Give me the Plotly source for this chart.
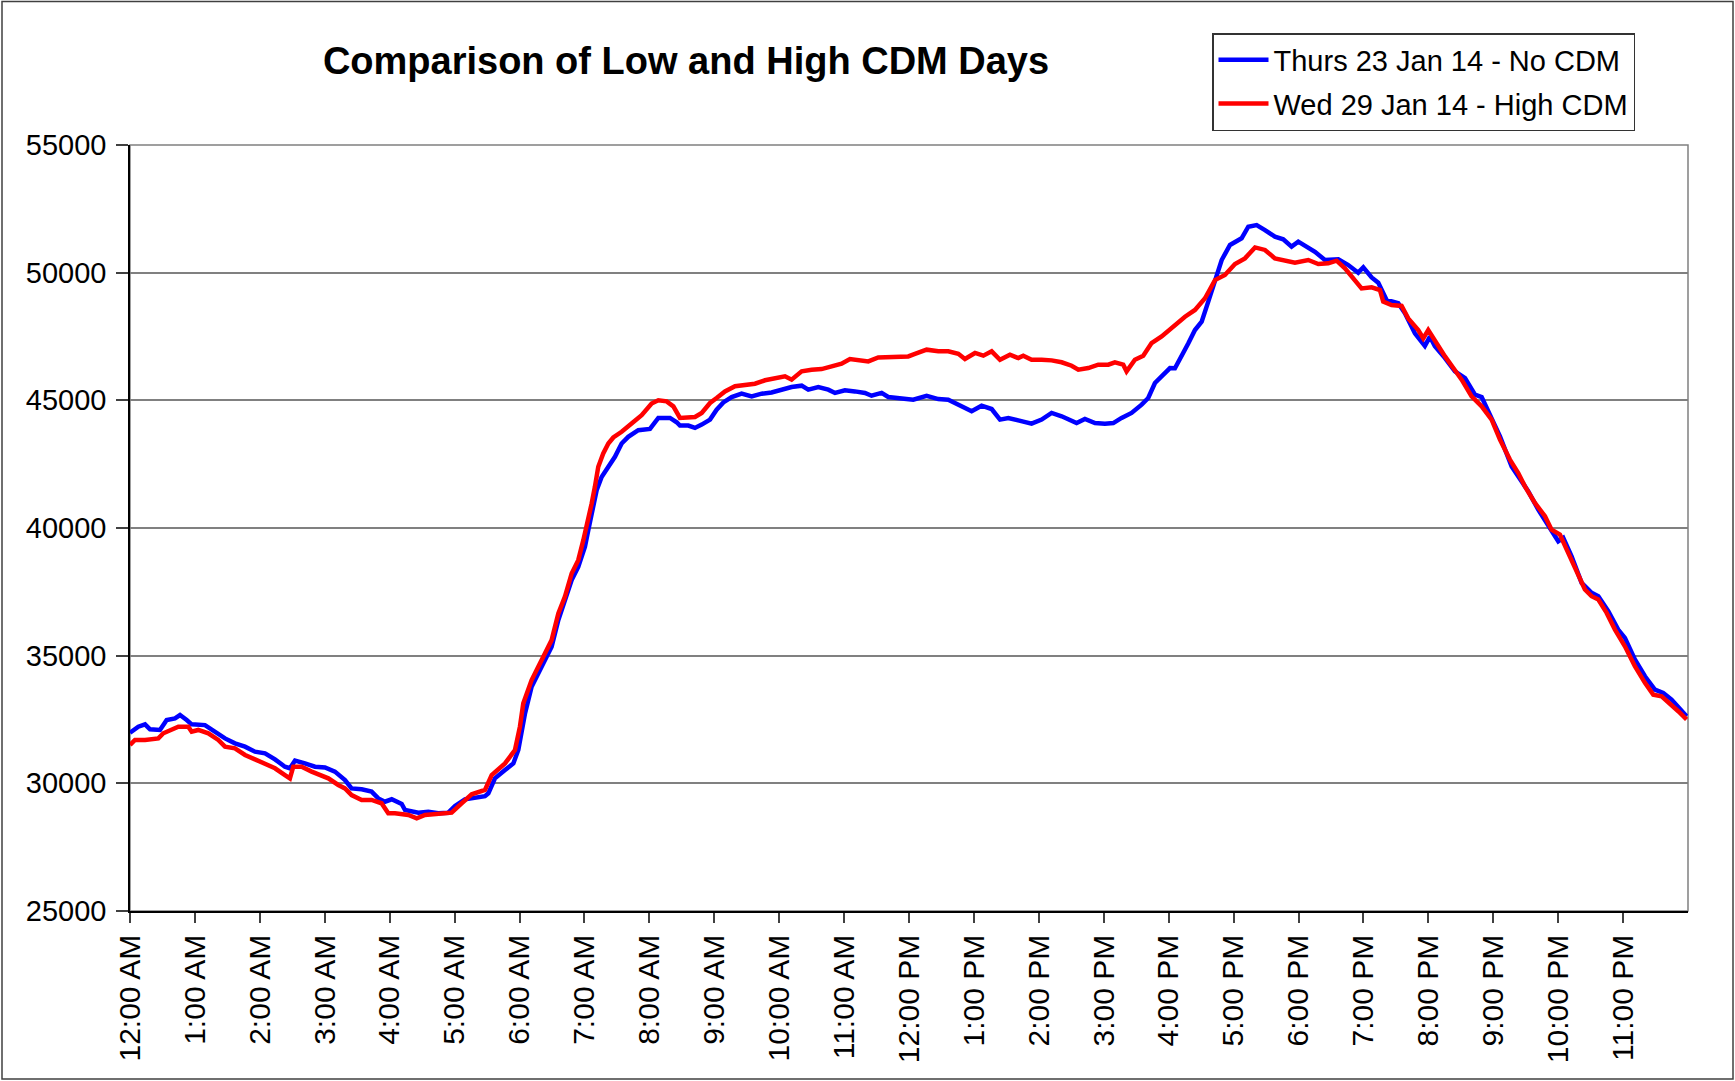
import plotly.graph_objects as go

# minutes after midnight, MW
blue_min = [0, 7.7, 13.9, 18.5, 27.7, 33.9, 41.6, 46.2, 52.4, 57.0, 69.3, 78.5, 87.8, 97.0, 106.3,
            115.5, 124.8, 134.0, 143.2, 147.8, 152.5, 161.7, 171.0, 180.2, 189.4, 198.7, 204.8,
            214.1, 223.3, 229.5, 235.6, 241.9, 251.1, 254.2, 266.5, 275.7, 285.0, 294.2, 300.4,
            309.6, 318.9, 328.1, 331.2, 337.3, 346.6, 354.3, 358.9, 365.1, 371.2, 377.4, 383.5,
            389.7, 395.9, 402.0, 408.2, 414.3, 420.5, 423.6, 426.7, 431.3, 435.9, 442.1, 448.2,
            454.4, 460.5, 469.8, 480.6, 488.3, 499.1, 505.3, 508.3, 516.0, 522.2, 528.4, 536.1,
            542.2, 548.4, 556.1, 565.3, 574.6, 583.8, 593.0, 602.3, 611.5, 620.8, 626.9, 636.2,
            645.4, 651.6, 660.8, 670.0, 679.3, 685.4, 694.7, 700.8, 713.2, 723.9, 736.3, 747.1,
            756.3, 765.6, 777.9, 787.1, 796.4, 804.1, 811.8, 821.0, 833.3, 842.6, 847.2, 851.8,
            861.1, 870.3, 874.9, 882.6, 891.9, 901.1, 908.8, 916.5, 925.7, 935.0, 941.1, 947.3,
            955.0, 961.2, 965.8, 972.0, 978.2, 984.3, 990.5, 996.6, 1002.8, 1009.0, 1016.7,
            1027.4, 1033.6, 1041.3, 1049.0, 1058.2, 1065.9, 1073.6, 1079.8, 1086.0, 1095.2,
            1104.4, 1116.8, 1126.0, 1135.2, 1139.9, 1147.6, 1153.7, 1161.4, 1172.2, 1178.4,
            1187.6, 1196.8, 1201.5, 1206.1, 1215.4, 1224.6, 1233.9, 1243.1, 1249.3, 1258.5,
            1266.2, 1277.0, 1284.7, 1292.4, 1301.6, 1310.9, 1320.1, 1324.7, 1332.4, 1341.7,
            1350.9, 1357.1, 1366.3, 1375.5, 1381.7, 1390.9, 1400.2, 1409.4, 1417.1, 1424.8,
            1432.5, 1438.7]
blue_mw = [31984, 32218, 32310, 32114, 32090, 32480, 32545, 32675, 32480, 32310, 32280, 32020,
           31760, 31565, 31435, 31240, 31175, 30940, 30650, 30590, 30890, 30780, 30650, 30625,
           30460, 30130, 29800, 29765, 29675, 29410, 29280, 29375, 29190, 28955, 28850, 28890,
           28825, 28850, 29110, 29375, 29450, 29500, 29610, 30195, 30520, 30780, 31305, 32740,
           33785, 34305, 34830, 35350, 36395, 37180, 37960, 38480, 39265, 39920, 40570, 41480,
           42000, 42400, 42790, 43310, 43570, 43830, 43880, 44310, 44310, 44140, 44010, 44010,
           43920, 44050, 44245, 44635, 44920, 45130, 45260, 45155, 45260, 45310, 45420, 45520,
           45575, 45420, 45520, 45420, 45290, 45390, 45350, 45290, 45180, 45290, 45130, 45090,
           45025, 45180, 45050, 45025, 44830, 44570, 44790, 44660, 44245, 44310, 44215, 44085,
           44245, 44400, 44505, 44375, 44215, 44110, 44270, 44110, 44085, 44110, 44310, 44505,
           44830, 45090, 45680, 46005, 46265, 46255, 46710, 47235, 47755, 48080, 48865, 49710,
           50495, 51085, 51345, 51800, 51865, 51670, 51410, 51305, 51020, 51215, 51045, 50820,
           50495, 50520, 50300, 50000, 50210, 49815, 49610, 48930, 48800, 48410, 47625, 47130,
           47495, 47115, 46655, 46135, 45875, 45220, 45130, 44310, 43590, 42415, 41895, 41435,
           40720, 40065, 39480, 39610, 38890, 37850, 37460, 37330, 36740, 36020, 35695, 34850,
           34195, 33670, 33540, 33280, 32890, 32630]

red_min = [0, 4.6, 13.9, 26.2, 30.8, 38.5, 44.7, 53.9, 57.0, 63.1, 72.4, 81.6, 87.8, 97.0, 106.3,
           115.5, 124.8, 134.0, 143.2, 147.8, 150.9, 158.6, 167.9, 177.1, 183.3, 192.5, 198.7,
           204.8, 214.1, 223.3, 232.5, 238.7, 244.9, 257.3, 265.0, 272.7, 285.0, 297.3, 306.5,
           315.8, 328.1, 334.3, 346.6, 355.8, 360.4, 363.5, 371.2, 377.4, 383.5, 389.7, 395.9,
           402.0, 408.2, 414.3, 419.0, 423.6, 426.7, 429.7, 432.8, 437.4, 442.1, 446.7, 454.4,
           463.6, 472.9, 482.1, 488.3, 496.0, 502.2, 508.3, 514.5, 522.2, 528.4, 536.1, 542.2,
           549.9, 559.2, 568.4, 577.6, 586.9, 596.1, 605.4, 611.5, 620.8, 630.0, 639.2, 648.5,
           657.7, 665.4, 673.1, 682.4, 691.6, 700.8, 710.1, 719.3, 725.5, 736.3, 747.1, 756.3,
           765.6, 771.7, 781.0, 788.7, 796.4, 804.1, 813.3, 821.0, 825.6, 833.3, 842.6, 851.8,
           861.1, 870.3, 876.5, 885.7, 894.9, 904.2, 910.3, 918.0, 921.1, 928.8, 936.5, 944.2,
           953.5, 964.2, 975.1, 984.3, 993.6, 1002.8, 1012.0, 1021.3, 1030.5, 1039.8, 1049.0,
           1058.2, 1067.5, 1076.7, 1089.0, 1098.3, 1107.5, 1115.2, 1122.9, 1132.2, 1138.3,
           1147.6, 1155.3, 1158.3, 1166.0, 1175.3, 1181.4, 1190.7, 1195.3, 1199.9, 1206.1,
           1215.4, 1223.1, 1230.8, 1240.0, 1249.3, 1258.5, 1266.2, 1275.4, 1283.1, 1289.3,
           1298.5, 1307.8, 1313.9, 1321.6, 1329.3, 1338.6, 1344.7, 1350.9, 1357.1, 1364.8,
           1372.5, 1381.7, 1390.9, 1400.2, 1407.9, 1415.6, 1424.8, 1431.0, 1438.7]
red_mw = [31500, 31700, 31700, 31760, 31960, 32114, 32220, 32220, 32020, 32090, 31960, 31700,
          31435, 31370, 31110, 30940, 30780, 30590, 30325, 30195, 30650, 30650, 30460, 30290,
          30195, 29935, 29800, 29540, 29350, 29350, 29220, 28825, 28825, 28760, 28630, 28760,
          28825, 28850, 29215, 29570, 29740, 30325, 30780, 31305, 32220, 33130, 34045, 34570,
          35090, 35610, 36655, 37310, 38220, 38740, 39525, 40310, 40960, 41615, 42400, 42920,
          43310, 43545, 43770, 44095, 44420, 44877, 45000, 44960, 44765, 44310, 44310, 44350,
          44505, 44895, 45090, 45350, 45550, 45615, 45650, 45785, 45875, 45940, 45810, 46135,
          46200, 46225, 46330, 46435, 46620, 46590, 46525, 46680, 46700, 46680, 46720, 46815,
          46985, 46920, 46920, 46825, 46620, 46855, 46750, 46920, 46590, 46790, 46655, 46750,
          46590, 46590, 46565, 46490, 46355, 46200, 46265, 46395, 46395, 46490, 46395, 46135,
          46590, 46750, 47245, 47505, 47900, 48275, 48540, 48995, 49710, 49910, 50340, 50560,
          50990, 50890, 50560, 50470, 50390, 50495, 50340, 50365, 50470, 50170, 49710, 49385,
          49425, 49320, 48865, 48735, 48695, 48210, 47755, 47430, 47755, 47310, 46720, 46265,
          45810, 45155, 44765, 44245, 43460, 42680, 42155, 41630, 40980, 40460, 39935, 39740,
          39020, 38110, 37590, 37330, 37200, 36675, 36020, 35370, 34585, 33935, 33475, 33410,
          33085, 32825, 32500]

tick_minutes = [h * 60 for h in range(24)]
tick_labels = ["12:00 AM", "1:00 AM", "2:00 AM", "3:00 AM", "4:00 AM", "5:00 AM", "6:00 AM",
               "7:00 AM", "8:00 AM", "9:00 AM", "10:00 AM", "11:00 AM", "12:00 PM", "1:00 PM",
               "2:00 PM", "3:00 PM", "4:00 PM", "5:00 PM", "6:00 PM", "7:00 PM", "8:00 PM",
               "9:00 PM", "10:00 PM", "11:00 PM"]

FONT = "Liberation Sans, Arial, sans-serif"
W, H = 1735, 1081
L, R, T, B = 130, 47, 145, 170

fig = go.Figure()
fig.add_trace(go.Scatter(x=blue_min, y=blue_mw, mode="lines", name="Thurs 23 Jan 14 - No CDM",
                         line=dict(color="#0000FF", width=4.5), legendgroup="a"))
fig.add_trace(go.Scatter(x=red_min, y=red_mw, mode="lines", name="Wed 29 Jan 14 - High CDM",
                         line=dict(color="#FF0000", width=4.5), legendgroup="b"))

pw = W - L - R
ph = H - T - B
def px(x):
    return (x - L) / pw
def py(y):
    return (H - B - y) / ph

fig.update_layout(
    width=W, height=H,
    margin=dict(l=L, r=R, t=T, b=B, pad=0),
    paper_bgcolor="white", plot_bgcolor="white",
    font=dict(family=FONT, size=29, color="black"),
    title=dict(text="<b>Comparison of Low and High CDM Days</b>", x=686 / W, xref="container",
               xanchor="center", y=1 - 61 / H, yref="container", yanchor="middle",
               font=dict(family=FONT, size=38, color="black")),
    showlegend=True,
    legend=dict(x=px(1212), y=py(33), xanchor="left", yanchor="top",
                bgcolor="white", bordercolor="#333333", borderwidth=1.5,
                font=dict(family=FONT, size=29, color="black"),
                tracegroupgap=3, itemwidth=50),
    xaxis=dict(range=[0, 1440], tickmode="array", tickvals=tick_minutes, ticktext=tick_labels,
               tickangle=-90, ticks="outside", ticklen=10, tickwidth=1.5, tickcolor="#404040",
               showline=True, linecolor="black", linewidth=1.5, showgrid=False, zeroline=False,
               tickfont=dict(family=FONT, size=30, color="black")),
    yaxis=dict(range=[25000, 55000], dtick=5000, tick0=25000, tickformat="d",
               ticks="outside", ticklen=12,
               tickwidth=1.5, tickcolor="#404040", showline=True, linecolor="black",
               linewidth=1.5, showgrid=True, gridcolor="#808080", gridwidth=1.5,
               zeroline=False, ticklabelstandoff=4,
               tickfont=dict(family=FONT, size=29, color="black")),
    shapes=[
        dict(type="rect", xref="paper", yref="paper", x0=0, x1=1, y0=0, y1=1,
             line=dict(color="#808080", width=1.5), layer="below"),
        dict(type="rect", xref="paper", yref="paper", x0=px(2), x1=px(1733), y0=py(1079),
             y1=py(1.5), line=dict(color="#404040", width=1.5), layer="below"),
    ],
)

fig.write_html("out.html", config={"displayModeBar": False},
               post_script="document.body.style.margin='0';")
